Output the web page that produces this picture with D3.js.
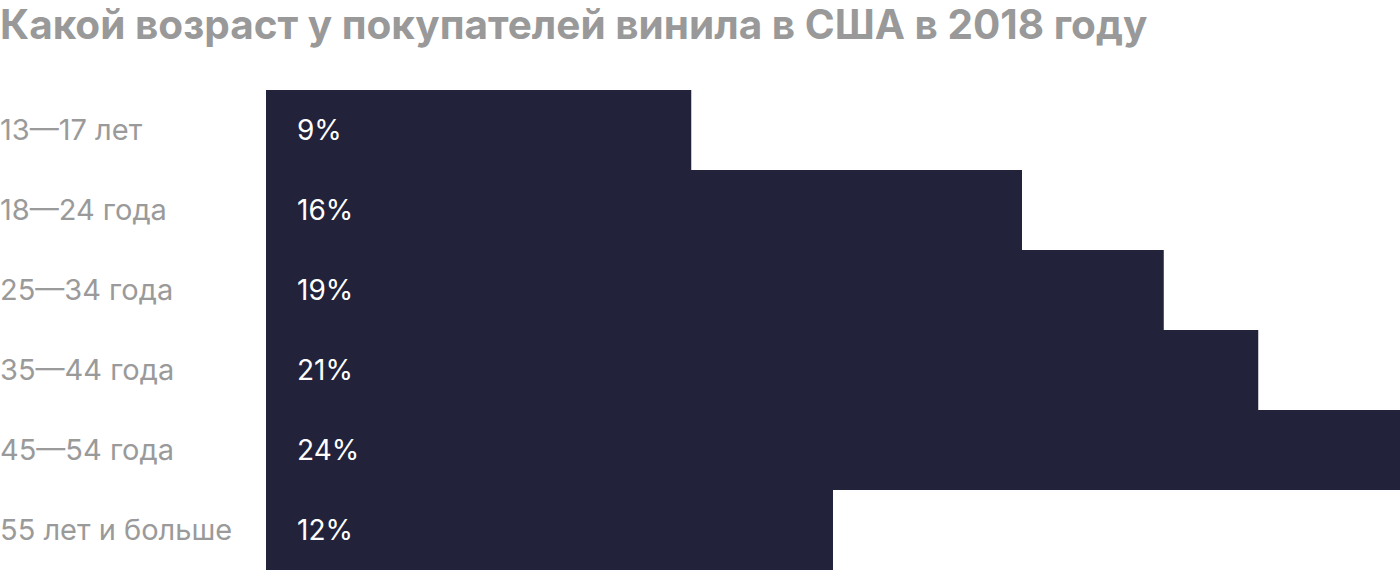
<!DOCTYPE html>
<html>
<head>
<meta charset="utf-8">
<script src="https://cdn.jsdelivr.net/npm/d3@7"></script>
<style>
  body { margin: 0; background: #fff; }
</style>
</head>
<body>
<div class="canvas"></div>
<script>
const categories = ['13—17 лет', '18—24 года', '25—34 года', '35—44 года', '45—54 года', '55 лет и больше'];
const values = [9, 16, 19, 21, 24, 12];
const title = 'Какой возраст у покупателей винила в США в 2018 году';

const width = 1400, height = 570;
const font = 'Inter, "Open Sans", sans-serif';

const svg = d3.select('.canvas').append('svg')
    .attr('width', width)
    .attr('height', height);

const x = d3.scaleLinear()
    .domain([0, 24])
    .range([266, 1400]);

const y = d3.scaleBand()
    .domain(categories)
    .range([90, 570])
    .padding(0);

svg.append('text')
    .attr('x', 0)
    .attr('y', 39)
    .attr('fill', '#999999')
    .style('font-family', font)
    .style('font-size', '40.5px')
    .style('font-weight', 'bold')
    .text(title);

svg.selectAll('rect.bar')
    .data(values)
    .enter().append('rect')
    .attr('class', 'bar')
    .attr('x', x(0))
    .attr('y', (d, i) => y(categories[i]))
    .attr('width', d => x(d) - x(0))
    .attr('height', y.bandwidth())
    .attr('fill', '#22223a');

svg.selectAll('text.cat')
    .data(categories)
    .enter().append('text')
    .attr('class', 'cat')
    .attr('x', 0)
    .attr('y', d => y(d) + y.bandwidth() / 2)
    .attr('dy', '0.35em')
    .attr('fill', '#9a9a9a')
    .style('font-family', font)
    .style('font-size', '29px')
    .text(d => d);

svg.selectAll('text.val')
    .data(values)
    .enter().append('text')
    .attr('class', 'val')
    .attr('x', x(0) + 31)
    .attr('y', (d, i) => y(categories[i]) + y.bandwidth() / 2)
    .attr('dy', '0.35em')
    .attr('fill', '#ffffff')
    .style('font-family', font)
    .style('font-size', '28px')
    .text(d => d + '%');
</script>
</body>
</html>
